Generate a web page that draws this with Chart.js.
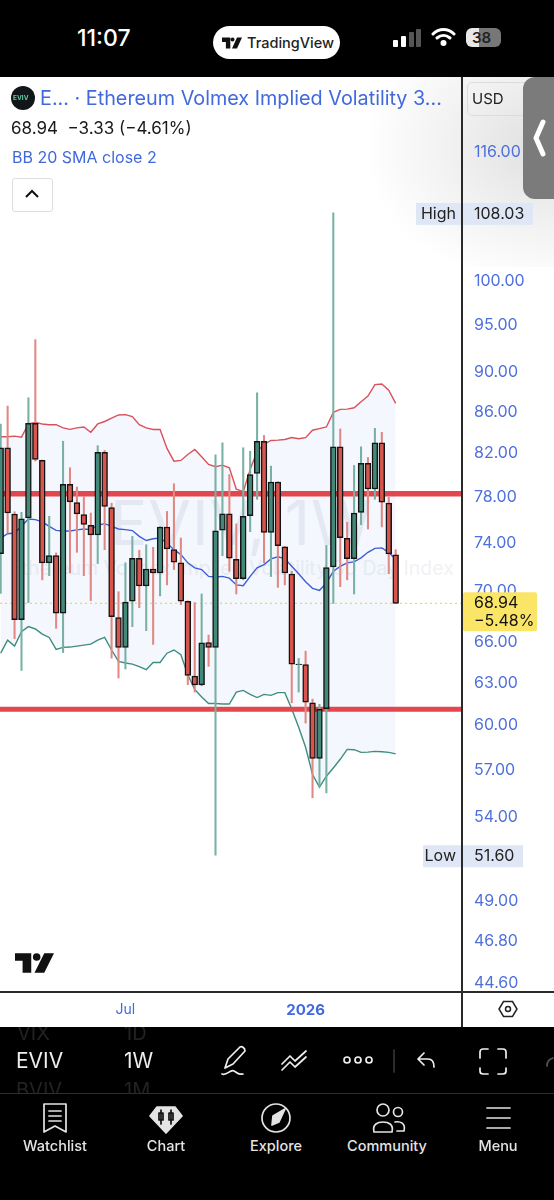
<!DOCTYPE html>
<html>
<head>
<meta charset="utf-8">
<title>EVIV</title>
<script src="https://cdn.jsdelivr.net/npm/chart.js@4"></script>
<style>
html, body { margin: 0; padding: 0; background: #000; }
#page { position: relative; width: 554px; height: 1200px; overflow: hidden; background: #fff; font-family: Inter, Roboto, sans-serif; }
#page div, #page svg { position: absolute; }
.txt { white-space: nowrap; line-height: 1; }
.blue { color: #4169dc; }
.nav { color: #e4e4e4; font-size: 14.5px; font-weight: 500; top: 1139px; transform: translateX(-50%); }
canvas { position: absolute; left: 0; top: 77px; }
</style>
</head>
<body>
<div id="page">
  <!-- grey glow behind the side handle -->
  <div style="left:340px;top:77px;width:214px;height:190px;background:radial-gradient(ellipse 190px 140px at 214px 70px,#dedede 0%,#f1f1f1 55%,#ffffff 100%)"></div>

  <!-- watermark -->
  <div class="txt" style="left:110px;top:492px;font-size:62px;color:#eef0f4;letter-spacing:1px">EVIV, 1W</div>
  <div class="txt" style="left:10px;top:559px;font-size:19.5px;color:#f1f2f5">Ethereum Volmex Implied Volatility 30 Day Index</div>

  <canvas id="evivChart" width="554" height="949"></canvas>

  <!-- status bar -->
  <div style="left:0;top:0;width:554px;height:77px;background:#000"></div>
  <div class="txt" style="left:77px;top:27px;font-size:23px;font-weight:500;color:#fff">11:07</div>
  <div style="left:213px;top:26px;width:127px;height:33px;border-radius:17px;background:#fff"></div>
  <svg style="left:222px;top:37px" width="20" height="12" viewBox="0 0 36 20"><path d="M0 0h15v20H7V8H0z M19 0a3.6 3.6 0 1 1 0 7.2a3.6 3.6 0 0 1 0-7.2z M27 0h9l-9 20h-9z" fill="#111"/></svg>
  <div class="txt" style="left:247px;top:36px;font-size:14.5px;font-weight:500;color:#222">TradingView</div>
  <svg style="left:392px;top:28px" width="30" height="20"><rect x="1" y="12" width="5" height="7" rx="1" fill="#fff"/><rect x="9" y="8" width="5" height="11" rx="1" fill="#fff"/><rect x="17" y="4" width="5" height="15" rx="1" fill="#555"/><rect x="24" y="1" width="5" height="18" rx="1" fill="#555"/></svg>
  <svg style="left:431px;top:27px" width="25" height="20" viewBox="0 0 25 20" fill="none" stroke="#fff" stroke-width="3" stroke-linecap="round"><path d="M2 7c6-6 15-6 21 0"/><path d="M6 11c4-3.500 9-3.500 13 0"/><circle cx="12.500" cy="16" r="1.500" fill="#fff"/></svg>
  <div style="left:466px;top:28px;width:35px;height:19px;border-radius:6px;background:linear-gradient(90deg,#e8e8e8 0 38%,#777 38% 100%)"></div>
  <div class="txt" style="left:472px;top:30px;font-size:15px;font-weight:600;color:#222">38</div>

  <!-- legend block -->
  <div style="left:11px;top:86px;width:24px;height:24px;border-radius:50%;background:#10161a"></div>
  <div class="txt" style="left:13px;top:95px;font-size:6.500px;font-weight:700;color:#5fd0a0">EVIV</div>
  <div class="txt blue" style="left:40px;top:89px;font-size:19.8px">E... · Ethereum Volmex Implied Volatility 3...</div>
  <div class="txt" style="left:11px;top:120px;font-size:17px;color:#1a1a1a">68.94 &nbsp;−3.33 (−4.61%)</div>
  <div class="txt blue" style="left:12px;top:149px;font-size:16px">BB 20 SMA close 2</div>
  <div style="left:12px;top:178px;width:39px;height:32px;background:#fff;border:1px solid #ddd;border-radius:3px"></div>
  <svg style="left:24px;top:188px" width="16" height="12" fill="none" stroke="#111" stroke-width="2"><path d="M2 9l6-6 6 6"/></svg>

  <!-- axis frame -->
  <div style="left:461px;top:77px;width:2px;height:950px;background:#2a2a2a"></div>
  <div style="left:0;top:991px;width:554px;height:2px;background:#2a2a2a"></div>

  <!-- currency box and handle -->
  <div style="left:467px;top:82px;width:70px;height:32px;border:1px solid #dcdcdc;border-radius:5px"></div>
  <div class="txt" style="left:472px;top:91px;font-size:15px;color:#222">USD</div>
  <div style="left:523px;top:77px;width:40px;height:122px;border-radius:12px 0 0 12px;background:#7b7b7b"></div>
  <svg style="left:531px;top:119px" width="16" height="38" fill="none" stroke="#fff" stroke-width="5" stroke-linecap="round" stroke-linejoin="round"><path d="M12 3L5 19l7 16"/></svg>

  <!-- tradingview mark -->
  <svg style="left:15px;top:953px" width="39" height="20" viewBox="0 0 36 18"><path d="M0 0h15v18H7V7H0z M20 0a3.500 3.500 0 1 1 0 7a3.500 3.500 0 0 1 0-7z M27 0h9l-9 18h-9z" fill="#111"/></svg>

  <!-- settings hex -->
  <svg style="left:498px;top:1000px" width="20" height="18" fill="none" stroke="#222" stroke-width="1.500"><path d="M5.500 1.500h9l4.500 7.500-4.500 7.500h-9L1 9z"/><circle cx="10" cy="9" r="2.500"/></svg>

  <!-- bottom toolbar -->
  <div style="left:0;top:1027px;width:554px;height:173px;background:#000"></div>
  <div style="left:0;top:1027px;width:200px;height:66px;overflow:hidden">
    <div class="txt" style="left:17px;top:-4px;font-size:20px;color:#222">VIX</div>
    <div class="txt" style="left:124px;top:-4px;font-size:20px;color:#222">1D</div>
    <div class="txt" style="left:16px;top:53px;font-size:20px;color:#222">BVIV</div>
    <div class="txt" style="left:124px;top:53px;font-size:20px;color:#222">1M</div>
  </div>
  <div class="txt" style="left:16px;top:1050px;font-size:21px;color:#eee">EVIV</div>
  <div class="txt" style="left:124px;top:1050px;font-size:21px;color:#eee">1W</div>
  <svg style="left:220px;top:1044px" width="340" height="34" fill="none" stroke="#eee" stroke-width="1.700" stroke-linecap="round" stroke-linejoin="round">
    <path d="M5 24l3-9L20 3c2-1 5 1 5 4L13 20z"/><path d="M2 30c5 2 8-5 12-3s4 4 9 3"/>
    <path d="M62 20l8-8 5 5 11-10M62 26l8-8 5 5 11-10"/>
    <circle cx="127" cy="16" r="3"/><circle cx="138" cy="16" r="3"/><circle cx="149" cy="16" r="3"/>
    <path d="M174 6v22" stroke="#333"/>
    <path d="M204 9l-6 6 6 6M198 15h10c4 0 6 3 6 8"/>
    <path d="M260 14V8a3 3 0 0 1 3-3h5M278 5h5a3 3 0 0 1 3 3v6M286 24v3a3 3 0 0 1-3 3h-5M268 30h-5a3 3 0 0 1-3-3v-3"/>
    <path d="M327 22c0-5 2-7 6-8" stroke="#555"/>
  </svg>
  <div style="left:0;top:1093px;width:554px;height:1px;background:#2c2c2c"></div>

  <!-- tab bar -->
  <svg style="left:0;top:1100px" width="554" height="36" fill="none" stroke="#e4e4e4" stroke-width="1.700" stroke-linecap="round" stroke-linejoin="round">
    <path d="M44 4h22v28l-11-6-11 6zM49 11h12M49 16h12M49 21h12"/>
    <path d="M157 7h18l7 9-16 17-16-17z" fill="#e4e4e4"/>
    <path d="M161 10v14M171 10v14M159 13h4v7h-4zM169 13h4v7h-4z" stroke="#111"/>
    <circle cx="276" cy="18" r="14"/><path d="M285 9l-6 13-7 3 1-9z" fill="#e4e4e4"/>
    <circle cx="383" cy="10" r="6"/><circle cx="398" cy="12" r="4.500"/><path d="M374 32c-2-8 4-10 9-10s11 2 9 10zM395 22c5-1 11 1 9 9h-7"/>
    <path d="M487 8h23M487 18h23M487 28h23"/>
  </svg>
  <div class="txt nav" style="left:55px">Watchlist</div>
  <div class="txt nav" style="left:166px">Chart</div>
  <div class="txt nav" style="left:276px">Explore</div>
  <div class="txt nav" style="left:387px">Community</div>
  <div class="txt nav" style="left:498px">Menu</div>
</div>

<script>
// weekly EVIV candles
var opens = [73.0,82.45,76.4,67.65,76.06,84.8,81.28,72.23,72.83,68.17,79.05,77.42,76.35,75.42,74.58,82.03,76.98,67.83,65.54,69.12,
  72.61,70.33,71.72,71.39,75.27,73.33,72.23,69.11,63.41,62.77,65.9,65.54,75.0,76.41,72.52,70.92,76.26,80.05,83.07,74.8,
  79.27,73.58,71.31,64.25,64.25,61.49,57.68,61.07,71.89,82.54,74.29,72.58,76.55,80.98,78.63,82.92,77.36,72.89];
var closes = [82.45,76.49,67.65,75.97,84.8,81.35,72.23,72.83,68.17,79.05,77.48,76.41,75.5,74.58,82.03,77.07,67.9,65.54,69.04,72.61,
  70.33,71.72,71.39,75.27,73.39,72.28,69.11,63.46,62.77,65.88,65.54,74.94,76.41,72.61,70.92,76.2,79.95,83.07,74.8,79.27,
  73.67,71.39,64.29,64.29,61.54,57.68,61.03,71.83,82.54,74.35,72.58,76.49,80.98,78.63,82.92,77.45,72.97,68.94];
var highs = [84.74,86.5,76.6,76.55,87.33,93.37,81.3,76.2,73.06,83.07,80.58,78.81,77.94,76.49,82.65,82.2,77.36,69.87,72.23,74.46,
  73.28,73.75,73.53,75.3,76.63,79.11,74.32,69.15,69.0,69.69,66.47,81.79,82.92,79.95,75.54,82.45,82.12,87.83,83.63,80.73,
  79.3,73.6,71.53,64.71,65.25,61.75,61.38,73.69,108.03,84.26,75.68,80.79,82.54,81.53,84.32,83.93,77.89,73.33];
var lows = [69.74,74.75,66.2,63.82,69.0,81.2,70.83,71.17,66.99,65.15,71.39,73.11,71.17,69.16,72.17,73.33,64.73,63.27,63.93,67.12,
  68.6,66.81,65.76,69.53,70.42,71.67,68.84,62.79,62.25,62.7,64.12,51.6,72.83,71.53,69.69,70.83,74.87,77.71,72.23,71.1,
  70.22,70.42,61.49,62.25,60.07,55.13,55.83,55.44,68.94,70.28,70.83,69.69,75.47,75.1,77.71,75.28,71.33,68.94];

// bollinger bands 20 SMA
var bbUpper = [83.5,83.5,83.56,83.46,84.74,84.89,84.74,84.67,84.67,84.36,84.22,84.36,84.45,83.94,84.74,84.98,85.31,85.62,85.65,85.46,
  84.67,84.36,84.2,84.2,82.39,81.19,81.26,81.81,82.29,81.6,80.88,80.67,80.82,80.58,78.62,78.4,80.42,82.12,82.76,83.15,
  83.18,83.24,83.43,83.31,83.41,84.13,84.29,84.45,85.88,86.17,86.2,86.33,86.93,87.5,88.67,88.73,88.1,86.77];
var bbBasis = [74.32,74.69,74.75,75.33,75.97,75.91,75.71,75.33,74.98,74.93,74.93,75.02,75.1,75.04,75.42,75.56,75.33,75.1,75.04,74.96,
  74.46,74.11,74.26,74.32,73.89,73.33,72.92,72.23,71.81,71.67,71.11,71.06,71.11,70.97,70.42,70.36,71.11,71.81,72.08,72.56,
  72.73,72.58,71.94,71.33,70.67,70.14,69.98,70.56,71.53,71.94,72.23,72.31,72.64,73.11,73.44,73.48,73.11,72.5];
var bbLower = [65.1,66.08,65.63,66.73,67.12,66.94,66.55,66.29,65.39,65.54,65.56,65.63,65.71,65.78,66.08,66.29,65.34,64.49,64.37,64.29,
  64.1,63.88,64.41,64.41,65.1,65.34,64.98,63.51,62.44,61.9,61.44,61.44,61.4,61.4,62.25,62.37,62.09,61.86,62.09,62.02,
  62.21,62.21,61.05,59.78,58.42,56.62,55.81,56.51,57.05,57.62,58.28,58.26,58.08,58.1,58.15,58.12,58.08,57.98];

// drawn levels and axis labels
var levels = [78.2, 61.03];
var levelWidths = [5.5, 5];
var priceTicks = [44.6,46.8,49,54,57,60,63,66,70,74,78,82,86,90,95,100,116];
var timeTickAt = [18, 44];
var timeTickLabels = ['Jul', '2026'];
var lastClose = 68.94;
var lastChange = '−5.48%';
var highValue = 108.03;
var lowValue = 51.6;

var GREEN = '#42897a', RED = '#d7554d';
var xMin = -0.1, xMax = 66.57;
var yMin = 44.09, yMax = 126.3;

function toPoints(arr){
    return arr.map(function(v, i){ return {x: i, y: v}; });
}
function flat(v){
    return [{x: xMin, y: v}, {x: xMax, y: v}];
}
function bandLine(label, arr, color, fill){
    return {
        type: 'line', label: label, data: toPoints(arr), borderColor: color, borderWidth: 1.4,
        pointRadius: 0, tension: 0, order: 5, fill: fill, backgroundColor: 'rgba(40,100,220,0.05)'
    };
}
function levelLine(i){
    return {
        type: 'line', label: 'level ' + i, data: flat(levels[i]), borderColor: '#e1474d', borderWidth: levelWidths[i],
        pointRadius: 0, order: 4, fill: false
    };
}

var isUp = closes.map(function(c, i){ return c >= opens[i]; });

var priceTags = {
    id: 'priceTags',
    afterDraw: function(chart){
        var ctx = chart.ctx, y = chart.scales.y;
        var axisX = chart.chartArea.right + 1;
        ctx.save();
        ctx.textBaseline = 'middle';
        ctx.font = '16px Inter, Roboto, sans-serif';

        function tag(word, value, left, right){
            var py = y.getPixelForValue(value);
            ctx.fillStyle = '#dfe7f6';
            ctx.fillRect(left, py - 10, right - left, 22);
            ctx.fillStyle = '#222';
            ctx.textAlign = 'right';
            ctx.fillText(word, axisX - 7, py + 1);
            ctx.textAlign = 'left';
            ctx.fillText(value.toFixed(2), axisX + 11, py + 1);
        }
        tag('High', highValue, 416, 533);
        tag('Low', lowValue, 423, 523);

        // last price box
        var py = y.getPixelForValue(lastClose);
        ctx.fillStyle = '#fbe566';
        ctx.beginPath();
        ctx.roundRect(axisX, py - 11, 74, 39, 2);
        ctx.fill();
        ctx.fillStyle = '#111';
        ctx.textAlign = 'left';
        ctx.fillText(lastClose.toFixed(2), axisX + 11, py);
        ctx.fillText(lastChange, axisX + 11, py + 18);
        ctx.restore();
    }
};

var chart = new Chart(document.getElementById('evivChart').getContext('2d'), {
    type: 'bar',
    plugins: [priceTags],
    data: {
        datasets: [
            bandLine('BB upper', bbUpper, '#d8525a', 2),
            bandLine('BB basis', bbBasis, '#3e5fd6', false),
            bandLine('BB lower', bbLower, '#3f8f7d', false),
            levelLine(0),
            levelLine(1),
            {
                type: 'line', label: 'last', data: flat(lastClose), borderColor: '#efd94f', borderWidth: 1.2,
                borderDash: [2, 3], pointRadius: 0, order: 3, fill: false
            },
            {
                label: 'wicks',
                data: highs.map(function(h, i){ return {x: i, y: [lows[i], h]}; }),
                backgroundColor: isUp.map(function(u){ return u ? '#78b0a4' : '#e08883'; }),
                barThickness: 1.4, grouped: false, order: 2
            },
            {
                label: 'bodies',
                data: opens.map(function(o, i){ return {x: i, y: [Math.min(o, closes[i]), Math.max(o, closes[i])]}; }),
                backgroundColor: isUp.map(function(u){ return u ? GREEN : RED; }),
                borderColor: '#141414', borderWidth: 1.5, borderSkipped: false,
                barThickness: 5.8, grouped: false, order: 1
            }
        ]
    },
    options: {
        responsive: false,
        animation: false,
        layout: {padding: 0, autoPadding: false},
        plugins: {legend: {display: false}, tooltip: {enabled: false}},
        scales: {
            x: {
                type: 'linear', min: xMin, max: xMax, offset: false,
                grid: {display: false, drawTicks: false},
                border: {display: false},
                afterFit: function(scale){
                    scale.height = 34;
                    scale.paddingLeft = 0;
                    scale.paddingRight = 0;
                },
                afterBuildTicks: function(scale){
                    scale.ticks = timeTickAt.map(function(v){ return {value: v}; });
                },
                ticks: {
                    autoSkip: false, maxRotation: 0, padding: 9, color: '#4169dc',
                    font: function(c){
                        return c.tick && c.tick.value === timeTickAt[1]
                            ? {family: 'Inter, Roboto, sans-serif', size: 15, weight: 'bold'}
                            : {family: 'Inter, Roboto, sans-serif', size: 14};
                    },
                    callback: function(v){ return timeTickLabels[timeTickAt.indexOf(v)]; }
                }
            },
            y: {
                type: 'logarithmic', position: 'right', min: yMin, max: yMax, beginAtZero: false,
                grid: {display: false, drawTicks: false},
                border: {display: false},
                afterFit: function(scale){
                    // tick padding otherwise pushes the plot area down from the top
                    scale.width = 92;
                    scale.paddingTop = 0;
                    scale.paddingBottom = 0;
                },
                afterBuildTicks: function(scale){
                    scale.ticks = priceTicks.map(function(v){ return {value: v}; });
                    scale.min = yMin;
                    scale.max = yMax;
                },
                ticks: {
                    autoSkip: false, padding: 12, labelOffset: 1, color: '#4f70dc',
                    font: {family: 'Inter, Roboto, sans-serif', size: 16},
                    callback: function(v){ return Number(v).toFixed(2); }
                }
            }
        }
    }
});
</script>
</body>
</html>
